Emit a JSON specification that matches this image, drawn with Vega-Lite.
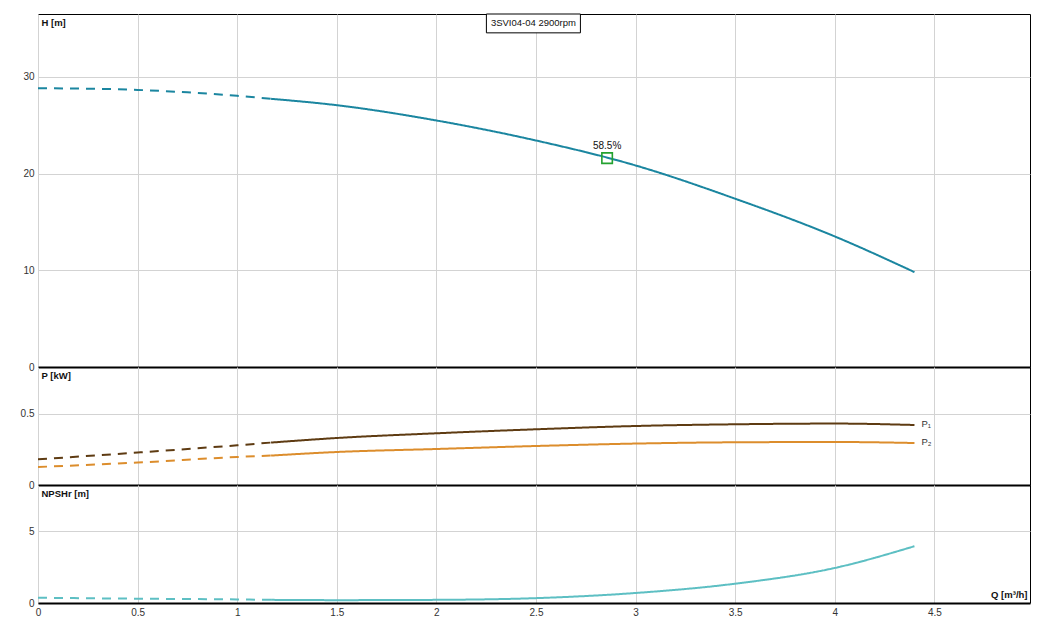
{
  "$schema": "https://vega.github.io/schema/vega-lite/v6.json",
  "background": "white",
  "padding": {"left": 5, "top": 13, "right": 5, "bottom": 5},
  "spacing": 0,
  "bounds": "flush",
  "datasets": {
    "head": [
      {"q": 0, "v": 28.82, "curve": "H", "part": "dashed"},
      {"q": 0.25, "v": 28.78, "curve": "H", "part": "dashed"},
      {"q": 0.5, "v": 28.65, "curve": "H", "part": "dashed"},
      {"q": 0.75, "v": 28.4, "curve": "H", "part": "dashed"},
      {"q": 1.0, "v": 28.04, "curve": "H", "part": "dashed"},
      {"q": 1.17, "v": 27.73, "curve": "H", "part": "dashed"},
      {"q": 1.17, "v": 27.73, "curve": "H", "part": "solid"},
      {"q": 1.5, "v": 27.07, "curve": "H", "part": "solid"},
      {"q": 2.0, "v": 25.49, "curve": "H", "part": "solid"},
      {"q": 2.5, "v": 23.42, "curve": "H", "part": "solid"},
      {"q": 3.0, "v": 20.84, "curve": "H", "part": "solid"},
      {"q": 3.5, "v": 17.4, "curve": "H", "part": "solid"},
      {"q": 4.0, "v": 13.5, "curve": "H", "part": "solid"},
      {"q": 4.4, "v": 9.81, "curve": "H", "part": "solid"}
    ],
    "power": [
      {"q": 0, "v": 0.18, "curve": "P1", "part": "dashed"},
      {"q": 0.5, "v": 0.227, "curve": "P1", "part": "dashed"},
      {"q": 1.0, "v": 0.278, "curve": "P1", "part": "dashed"},
      {"q": 1.17, "v": 0.297, "curve": "P1", "part": "dashed"},
      {"q": 1.17, "v": 0.297, "curve": "P1", "part": "solid"},
      {"q": 1.5, "v": 0.329, "curve": "P1", "part": "solid"},
      {"q": 2.0, "v": 0.362, "curve": "P1", "part": "solid"},
      {"q": 2.5, "v": 0.39, "curve": "P1", "part": "solid"},
      {"q": 3.0, "v": 0.413, "curve": "P1", "part": "solid"},
      {"q": 3.5, "v": 0.425, "curve": "P1", "part": "solid"},
      {"q": 4.0, "v": 0.43, "curve": "P1", "part": "solid"},
      {"q": 4.4, "v": 0.42, "curve": "P1", "part": "solid"},
      {"q": 0, "v": 0.126, "curve": "P2", "part": "dashed"},
      {"q": 0.5, "v": 0.157, "curve": "P2", "part": "dashed"},
      {"q": 1.0, "v": 0.196, "curve": "P2", "part": "dashed"},
      {"q": 1.17, "v": 0.206, "curve": "P2", "part": "dashed"},
      {"q": 1.17, "v": 0.206, "curve": "P2", "part": "solid"},
      {"q": 1.5, "v": 0.231, "curve": "P2", "part": "solid"},
      {"q": 2.0, "v": 0.252, "curve": "P2", "part": "solid"},
      {"q": 2.5, "v": 0.273, "curve": "P2", "part": "solid"},
      {"q": 3.0, "v": 0.29, "curve": "P2", "part": "solid"},
      {"q": 3.5, "v": 0.299, "curve": "P2", "part": "solid"},
      {"q": 4.0, "v": 0.301, "curve": "P2", "part": "solid"},
      {"q": 4.4, "v": 0.294, "curve": "P2", "part": "solid"}
    ],
    "npsh": [
      {"q": 0, "v": 0.37, "curve": "NPSHr", "part": "dashed"},
      {"q": 0.5, "v": 0.3, "curve": "NPSHr", "part": "dashed"},
      {"q": 1.0, "v": 0.25, "curve": "NPSHr", "part": "dashed"},
      {"q": 1.17, "v": 0.22, "curve": "NPSHr", "part": "dashed"},
      {"q": 1.17, "v": 0.22, "curve": "NPSHr", "part": "solid"},
      {"q": 1.5, "v": 0.2, "curve": "NPSHr", "part": "solid"},
      {"q": 2.0, "v": 0.22, "curve": "NPSHr", "part": "solid"},
      {"q": 2.5, "v": 0.34, "curve": "NPSHr", "part": "solid"},
      {"q": 3.0, "v": 0.7, "curve": "NPSHr", "part": "solid"},
      {"q": 3.5, "v": 1.35, "curve": "NPSHr", "part": "solid"},
      {"q": 4.0, "v": 2.45, "curve": "NPSHr", "part": "solid"},
      {"q": 4.4, "v": 3.97, "curve": "NPSHr", "part": "solid"}
    ],
    "eff": [
      {"q": 2.857, "v": 21.6, "label": "58.5%"}
    ],
    "pumpbox": [
      {"q": 2.251, "q2": 2.723, "v": 34.55, "v2": 36.5, "qm": 2.487, "vm": 35.55, "label": "3SVI04-04 2900rpm"}
    ],
    "plabels": [
      {"q": 4.4, "v": 0.43, "label": "P₁"},
      {"q": 4.4, "v": 0.298, "label": "P₂"}
    ]
  },
  "vconcat": [
    {
      "width": 992,
      "height": 353,
      "encoding": {
        "x": {
          "field": "q", "type": "quantitative",
          "scale": {"domain": [0, 4.98], "nice": false, "zero": false},
          "axis": {"values": [0, 0.5, 1, 1.5, 2, 2.5, 3, 3.5, 4, 4.5], "labels": false, "title": null}
        },
        "y": {
          "field": "v", "type": "quantitative",
          "scale": {"domain": [0, 36.5], "nice": false},
          "axis": {"values": [0, 10, 20, 30], "title": "H [m]"}
        }
      },
      "layer": [
        {
          "data": {"name": "head"},
          "mark": {"type": "line", "strokeWidth": 2, "interpolate": "monotone", "color": "#1b86a0"},
          "encoding": {
            "detail": {"field": "part"},
            "strokeDash": {"field": "part", "type": "nominal", "scale": {"domain": ["dashed", "solid"], "range": [[9, 7], [1, 0]]}, "legend": null}
          }
        },
        {
          "data": {"name": "eff"},
          "mark": {"type": "point", "shape": "square", "size": 110, "filled": false, "stroke": "#23a12f", "strokeWidth": 1.6, "opacity": 1}
        },
        {
          "data": {"name": "eff"},
          "mark": {"type": "text", "dy": -12, "font": "Liberation Sans", "fontSize": 10, "color": "#111"},
          "encoding": {"text": {"field": "label"}}
        },
        {
          "data": {"name": "pumpbox"},
          "mark": {"type": "rect", "fill": "white", "stroke": "black", "strokeWidth": 1},
          "encoding": {
            "x": {"field": "q", "type": "quantitative"},
            "x2": {"field": "q2"},
            "y": {"field": "v", "type": "quantitative"},
            "y2": {"field": "v2"}
          }
        },
        {
          "data": {"name": "pumpbox"},
          "mark": {"type": "text", "font": "Liberation Sans", "fontSize": 9.5, "color": "#111", "baseline": "middle"},
          "encoding": {
            "x": {"field": "qm", "type": "quantitative"},
            "y": {"field": "vm", "type": "quantitative"},
            "text": {"field": "label"}
          }
        }
      ]
    },
    {
      "width": 992,
      "height": 118,
      "encoding": {
        "x": {
          "field": "q", "type": "quantitative",
          "scale": {"domain": [0, 4.98], "nice": false, "zero": false},
          "axis": {"values": [0, 0.5, 1, 1.5, 2, 2.5, 3, 3.5, 4, 4.5], "labels": false, "title": null}
        },
        "y": {
          "field": "v", "type": "quantitative",
          "scale": {"domain": [0, 0.826], "nice": false},
          "axis": {"values": [0, 0.5], "format": "~g", "title": "P [kW]"}
        }
      },
      "layer": [
        {
          "data": {"name": "power"},
          "mark": {"type": "line", "strokeWidth": 2, "interpolate": "monotone"},
          "encoding": {
            "color": {"field": "curve", "type": "nominal", "scale": {"domain": ["P1", "P2"], "range": ["#5e3b12", "#dc8d2c"]}, "legend": null},
            "detail": {"field": "part"},
            "strokeDash": {"field": "part", "type": "nominal", "scale": {"domain": ["dashed", "solid"], "range": [[9, 7], [1, 0]]}, "legend": null}
          }
        },
        {
          "data": {"name": "plabels"},
          "mark": {"type": "text", "align": "left", "dx": 7, "baseline": "middle", "font": "Liberation Sans", "fontSize": 9.5, "color": "#333"},
          "encoding": {"text": {"field": "label"}}
        }
      ]
    },
    {
      "width": 992,
      "height": 118,
      "encoding": {
        "x": {
          "field": "q", "type": "quantitative",
          "scale": {"domain": [0, 4.98], "nice": false, "zero": false},
          "axis": {"values": [0, 0.5, 1, 1.5, 2, 2.5, 3, 3.5, 4, 4.5], "format": "~g", "labelFlush": false, "title": "Q [m³/h]", "titleX": 989, "titleY": -9, "titleAlign": "right", "titleBaseline": "middle"}
        },
        "y": {
          "field": "v", "type": "quantitative",
          "scale": {"domain": [0, 8.25], "nice": false},
          "axis": {"values": [0, 5], "title": "NPSHr [m]"}
        }
      },
      "layer": [
        {
          "data": {"name": "npsh"},
          "mark": {"type": "line", "strokeWidth": 2, "interpolate": "monotone", "color": "#5dbfc3"},
          "encoding": {
            "detail": {"field": "part"},
            "strokeDash": {"field": "part", "type": "nominal", "scale": {"domain": ["dashed", "solid"], "range": [[9, 7], [1, 0]]}, "legend": null}
          }
        }
      ]
    }
  ],
  "config": {
    "view": {"stroke": "#000", "strokeWidth": 1},
    "axis": {
      "labelFont": "Liberation Sans",
      "labelFontSize": 10,
      "labelColor": "#333",
      "ticks": false,
      "gridColor": "#d3d3d3",
      "gridWidth": 1,
      "titleFont": "Liberation Sans",
      "titleFontSize": 9.5,
      "titleFontWeight": "bold",
      "titleColor": "#111"
    },
    "axisX": {
      "domain": true,
      "domainColor": "#000",
      "domainWidth": 2,
      "labelPadding": 4
    },
    "axisY": {
      "domain": false,
      "labelPadding": 4,
      "minExtent": 32,
      "maxExtent": 32,
      "titleAngle": 0,
      "titleAlign": "left",
      "titleBaseline": "middle",
      "titleX": 3,
      "titleY": 8
    }
  }
}
